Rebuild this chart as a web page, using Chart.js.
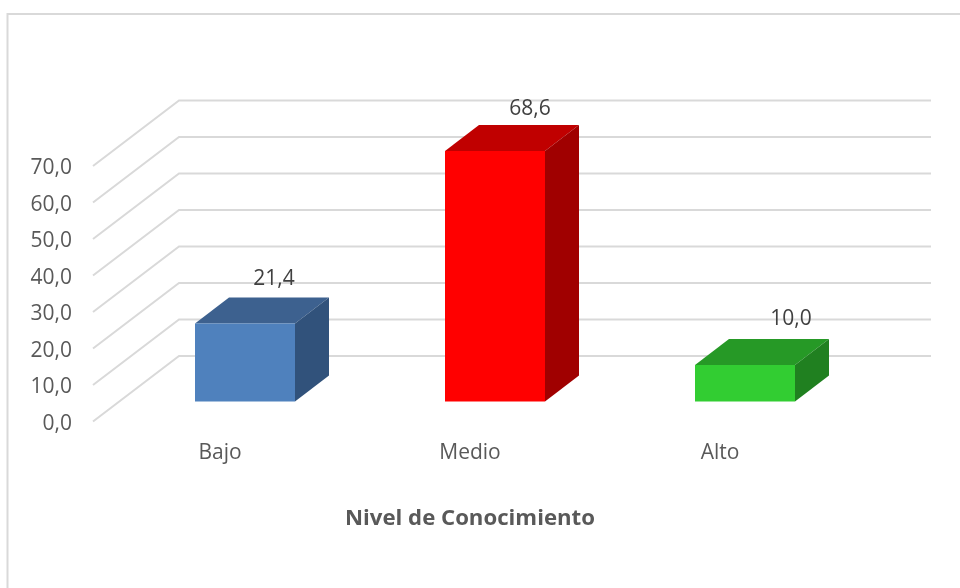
<!DOCTYPE html>
<html>
<head>
<meta charset="utf-8">
<style>
html,body{margin:0;padding:0;background:#fff}
canvas{display:block}
</style>
<script src="https://cdn.jsdelivr.net/npm/chart.js@4"></script>
</head>
<body>
<div style="width:960px;height:588px"><canvas id="c" width="960" height="588"></canvas></div>
<script>
const categories = ['Bajo', 'Medio', 'Alto'];
const values = [21.4, 68.6, 10.0];
const frontColors = ['#4f81bd', '#ff0000', '#32cd32'];
const topColors = ['#3d618f', '#c00000', '#269926'];
const sideColors = ['#31527b', '#a00000', '#208020'];
const axisTitle = 'Nivel de Conocimiento';

const FONT = '"Open Sans", sans-serif';
const fmt = v => v.toFixed(1).replace('.', ',');
const BAR_SHIFT = {x: 25, y: -20};
const DEPTH = {x: 34, y: -26};
const WALL = {x: 86, y: -65.5};
const LABEL_OFFSET = [{x: 29, y: -44}, {x: 35, y: -42}, {x: 46, y: -46}];

const depthPlugin = {
  id: 'depth',
  beforeDraw(chart) {
    const ctx = chart.ctx;
    ctx.save();
    ctx.strokeStyle = '#d9d9d9';
    ctx.lineWidth = 2;
    ctx.strokeRect(7.5, 14, 1000, 1000);
    const ys = chart.scales.y;
    const x0 = chart.chartArea.left - 2;
    ctx.lineWidth = 2;
    ys.ticks.forEach(t => {
      const y = ys.getPixelForValue(t.value);
      ctx.beginPath();
      ctx.moveTo(x0, y);
      ctx.lineTo(x0 + WALL.x, y + WALL.y);
      ctx.lineTo(931, y + WALL.y);
      ctx.stroke();
    });
    ctx.restore();
  },
  beforeDatasetDraw(chart) {
    const ctx = chart.ctx;
    const meta = chart.getDatasetMeta(0);
    ctx.save();
    ctx.translate(BAR_SHIFT.x, BAR_SHIFT.y);
    meta.data.forEach((bar, i) => {
      const l = bar.x - bar.width / 2, r = bar.x + bar.width / 2;
      ctx.fillStyle = topColors[i];
      ctx.beginPath();
      ctx.moveTo(l, bar.y);
      ctx.lineTo(l + DEPTH.x, bar.y + DEPTH.y);
      ctx.lineTo(r + DEPTH.x, bar.y + DEPTH.y);
      ctx.lineTo(r, bar.y);
      ctx.closePath();
      ctx.fill();
      ctx.fillStyle = sideColors[i];
      ctx.beginPath();
      ctx.moveTo(r, bar.y);
      ctx.lineTo(r + DEPTH.x, bar.y + DEPTH.y);
      ctx.lineTo(r + DEPTH.x, bar.base + DEPTH.y);
      ctx.lineTo(r, bar.base);
      ctx.closePath();
      ctx.fill();
    });
  },
  afterDatasetDraw(chart) {
    chart.ctx.restore();
  },
  afterDatasetsDraw(chart) {
    const ctx = chart.ctx;
    const meta = chart.getDatasetMeta(0);
    ctx.save();
    ctx.font = '21px ' + FONT;
    ctx.fillStyle = '#404040';
    ctx.textAlign = 'center';
    ctx.textBaseline = 'middle';
    meta.data.forEach((bar, i) => {
      ctx.fillText(fmt(values[i]),
        bar.x + BAR_SHIFT.x + LABEL_OFFSET[i].x,
        bar.y + BAR_SHIFT.y + LABEL_OFFSET[i].y);
    });
    ctx.restore();
  }
};

new Chart(document.getElementById('c'), {
  type: 'bar',
  data: {
    labels: categories,
    datasets: [{
      data: values,
      backgroundColor: frontColors,
      barPercentage: 0.4,
      categoryPercentage: 1,
      clip: false
    }]
  },
  plugins: [depthPlugin],
  options: {
    responsive: false,
    animation: false,
    layout: {padding: {top: 166, right: 115, left: 0, bottom: 56}},
    plugins: {legend: {display: false}, tooltip: {enabled: false}, title: {display: false}},
    scales: {
      x: {
        grid: {display: false, drawTicks: false},
        border: {display: false},
        ticks: {color: '#595959', font: {family: FONT, size: 21}, padding: 19, maxRotation: 0},
        title: {
          display: true, text: axisTitle, color: '#595959',
          font: {family: FONT, size: 22.2, weight: 'bold'},
          padding: {top: 38, bottom: 0}
        },
        afterFit(s) { s.height = 110.5; }
      },
      y: {
        min: 0, max: 70,
        grid: {display: false, drawTicks: false},
        border: {display: false},
        ticks: {stepSize: 10, color: '#595959', font: {family: FONT, size: 21}, padding: 23, labelOffset: 2.5, callback: v => fmt(v)},
        afterFit(s) { s.width = 95; }
      }
    }
  }
});
</script>
</body>
</html>
